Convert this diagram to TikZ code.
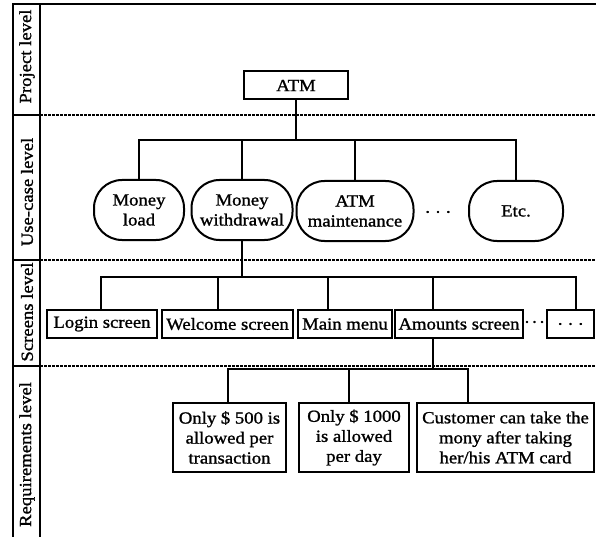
\documentclass[tikz,border=0pt]{standalone}
\usepackage{fontspec}
\setmainfont[FakeStretch=1.1,FakeBold=1.2]{Liberation Serif}
\begin{document}
\begin{tikzpicture}[x=1pt,y=-1pt,
  every node/.style={font=\fontsize{17}{20}\selectfont, inner sep=0pt, align=center},
  box/.style={draw, line width=2pt, minimum height=28pt},
  uc/.style={draw, line width=2pt, rounded corners=28pt, minimum height=60pt},
  conn/.style={line width=2pt},
  sep/.style={line width=1.4pt, dash pattern=on 3pt off 1pt},
  frame/.style={line width=2.6pt},
  lvl/.style={rotate=90}]
\useasboundingbox (0,0) rectangle (596,537);
% frame
\draw[frame] (13,537) -- (13,4) -- (596,4);
\draw[frame] (40,4) -- (40,537);
\draw[line width=2pt] (13,115) -- (40,115);
\draw[line width=2pt] (13,260) -- (40,260);
\draw[line width=2pt] (13,366) -- (40,366);
\draw[sep] (40,115) -- (596,115);
\draw[sep] (40,260) -- (596,260);
\draw[sep] (40,366) -- (596,366);
% level labels
\node[lvl] (lp) at (27,56.5) {Project level};
\node[lvl] (lu) at (27,192) {Use-case level};
\node[lvl] (ls) at (27,312) {Screens level};
\node[lvl] (lr) at (27,454.5) {Requirements level};
% project
\node[box, minimum width=104pt] (atm) at (296,85.5) {ATM};
% use cases
\node[uc, minimum width=90pt] (load) at (139,210) {Money\\load};
\node[uc, minimum width=101pt] (wd) at (242,210) {Money\\withdrawal};
\node[uc, minimum width=117pt] (mt) at (355,211) {ATM\\maintenance};
\node (d1) at (438,212) {.\,\,.\,\,.};
\node[uc, minimum width=94pt] (etc) at (516,211) {Etc.};
% screens
\node[box, minimum width=110pt] (login) at (102,324) {Login screen};
\node[box, minimum width=131pt] (welcome) at (227.5,324) {Welcome screen};
\node[box, minimum width=94pt] (menu) at (345,324) {Main menu};
\node[box, minimum width=128pt] (amt) at (459,324) {Amounts screen};
\node (d2) at (534.5,322) {.\,.\,.};
\node[box, minimum width=47pt] (more) at (570.5,324) {.\,\,.\,\,.};
% requirements
\node[box, minimum width=113pt, minimum height=69pt] (r1) at (229.5,437.5) {Only \$ 500 is\\allowed per\\transaction};
\node[box, minimum width=110pt, minimum height=69pt] (r2) at (354,437.5) {Only \$ 1000\\is allowed\\per day};
\node[box, minimum width=177pt, minimum height=69pt] (r3) at (505.5,437.5) {Customer can take the\\mony after taking\\her/his ATM card};
% connectors
\coordinate (h1) at (0,140);
\coordinate (h2) at (0,277);
\coordinate (h3) at (0,369);
\draw[conn] (atm.south) -- (atm.south |- h1);
\draw[conn] (load.north) |- (etc.north |- h1) -- (etc.north);
\draw[conn] (wd.north) -- (wd.north |- h1);
\draw[conn] (mt.north) -- (mt.north |- h1);
\draw[conn] (wd.south) -- (wd.south |- h2);
\coordinate (lt) at ([xshift=-1pt]login.north);
\coordinate (wt) at ([xshift=-9.5pt]welcome.north);
\coordinate (mmt) at ([xshift=-17pt]menu.north);
\coordinate (amtt) at ([xshift=-26pt]amt.north);
\coordinate (amtb) at ([xshift=-26pt]amt.south);
\coordinate (mot) at ([xshift=5.5pt]more.north);
\draw[conn] (lt) |- (mot |- h2) -- (mot);
\draw[conn] (wt) -- (wt |- h2);
\draw[conn] (mmt) -- (mmt |- h2);
\draw[conn] (amtt) -- (amtt |- h2);
\coordinate (r1t) at ([xshift=-1.5pt]r1.north);
\coordinate (r2t) at ([xshift=-5pt]r2.north);
\coordinate (r3t) at ([xshift=-37.5pt]r3.north);
\draw[conn] (amtb) -- (amtb |- h3);
\draw[conn] (r1t) |- (r3t |- h3) -- (r3t);
\draw[conn] (r2t) -- (r2t |- h3);
\end{tikzpicture}
\end{document}
